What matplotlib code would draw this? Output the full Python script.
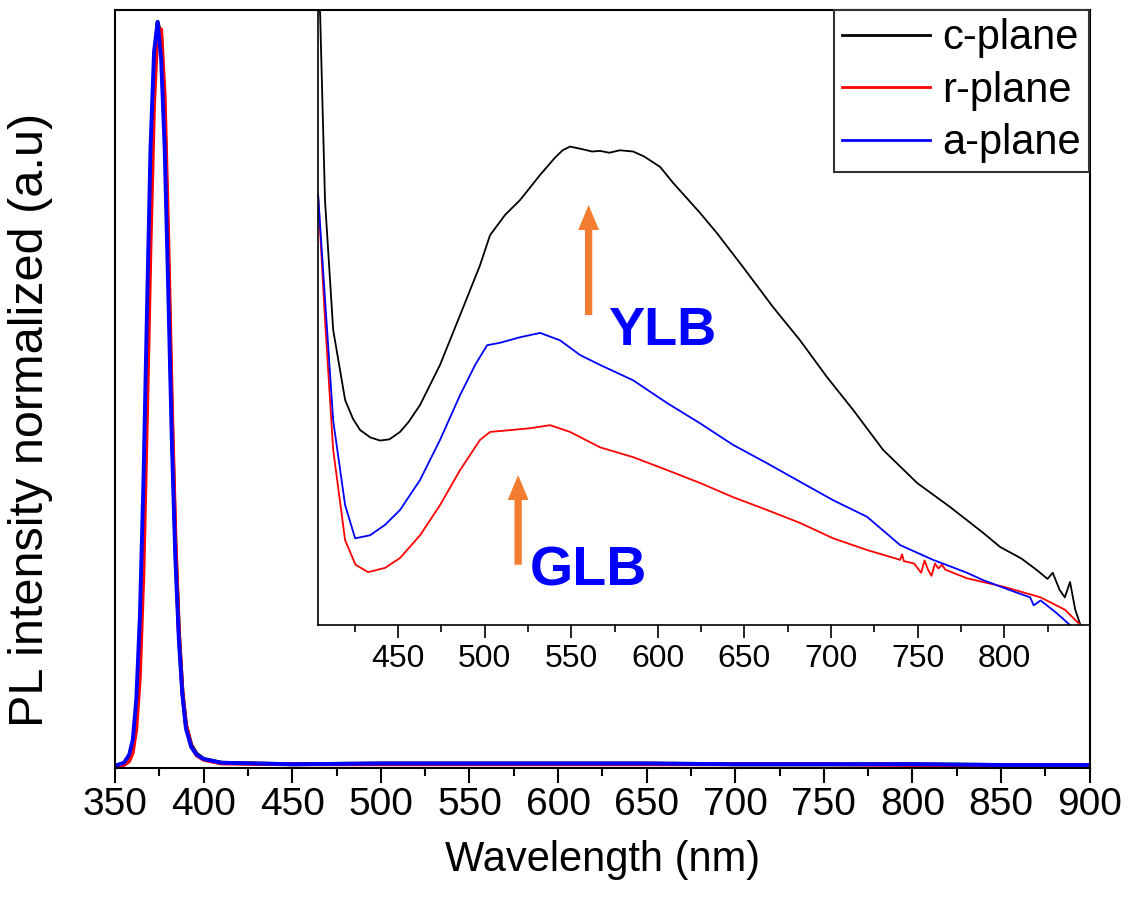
import matplotlib
matplotlib.use("Agg")
import matplotlib.pyplot as plt
from matplotlib.ticker import MultipleLocator

plt.rcParams['font.family'] = ['Liberation Sans', 'DejaVu Sans']

# ---------------- main spectrum (normalized) ----------------
wl_main = [350, 355, 358, 360, 362, 364, 366, 368, 370, 372, 374, 376, 378, 380,
           382, 384, 386, 388, 390, 393, 396, 400, 410, 450, 500, 550, 600, 650,
           700, 750, 800, 850, 900]
c_main = [0, 0.002, 0.01, 0.025, 0.07, 0.16, 0.32, 0.54, 0.77, 0.93, 1.0, 0.98,
          0.87, 0.68, 0.47, 0.30, 0.18, 0.10, 0.055, 0.028, 0.016, 0.009, 0.004,
          0.002, 0.003, 0.003, 0.003, 0.003, 0.002, 0.002, 0.002, 0.001, 0.001]
r_main = [0, 0.001, 0.006, 0.018, 0.05, 0.12, 0.26, 0.47, 0.70, 0.89, 0.99, 0.99,
          0.90, 0.71, 0.49, 0.31, 0.18, 0.10, 0.055, 0.026, 0.014, 0.008, 0.003,
          0.002, 0.002, 0.002, 0.002, 0.002, 0.002, 0.002, 0.001, 0.001, 0.001]
a_main = [0, 0.004, 0.015, 0.035, 0.09, 0.20, 0.38, 0.61, 0.83, 0.96, 1.0, 0.95,
          0.83, 0.64, 0.44, 0.28, 0.17, 0.095, 0.05, 0.025, 0.015, 0.009, 0.004,
          0.002, 0.003, 0.003, 0.003, 0.003, 0.002, 0.002, 0.002, 0.001, 0.001]

# ---------------- inset (defect band, zoomed) ----------------
wl_c = [404, 405, 407.8, 412.5, 419.4, 424, 428.1, 434, 439.6, 445, 451.1, 456,
        462.7, 474.2, 485.8, 497.3, 503.1, 511.8, 520.4, 532.0, 540.6, 545,
        549.3, 556, 562, 566.6, 572, 578, 585.7, 592, 601.3, 608.8, 624.4, 634.2,
        649.2, 666.5, 682.1, 697.7, 712.7, 730.0, 749.7, 768.7, 787.8, 797.6,
        810, 819, 825, 828, 832, 835, 838, 841, 844]
c_ins = [1.05, 0.99, 0.69, 0.48, 0.366, 0.335, 0.317, 0.305, 0.30, 0.302, 0.314,
         0.33, 0.358, 0.423, 0.504, 0.585, 0.634, 0.667, 0.691, 0.732, 0.760,
         0.772, 0.778, 0.774, 0.770, 0.771, 0.768, 0.772, 0.770, 0.762, 0.745,
         0.719, 0.670, 0.637, 0.582, 0.517, 0.463, 0.403, 0.350, 0.285, 0.231,
         0.192, 0.150, 0.127, 0.108, 0.089, 0.075, 0.085, 0.057, 0.045, 0.07,
         0.025, 0.0]

wl_r = [403.8, 407.8, 412.5, 419.4, 425.4, 432.7, 442.5, 451.1, 462.7, 474.2,
        485.8, 497.3, 503.1, 514.8, 526.2, 537.8, 549.3, 566.6, 585.7, 605.3,
        624.4, 643.4, 663.1, 682.1, 701.2, 720.8, 739.9, 741, 742, 748, 752, 754,
        756, 758, 760, 762, 764, 766, 778.5, 800, 821, 835, 844]
r_ins = [0.70, 0.496, 0.285, 0.138, 0.098, 0.086, 0.093, 0.109, 0.146, 0.195,
         0.252, 0.301, 0.314, 0.317, 0.320, 0.325, 0.314, 0.289, 0.273, 0.252,
         0.231, 0.208, 0.187, 0.166, 0.141, 0.122, 0.106, 0.115, 0.104, 0.100,
         0.085, 0.105, 0.09, 0.08, 0.1, 0.092, 0.098, 0.09, 0.076, 0.062, 0.045,
         0.025, 0.0]

wl_a = [403.8, 407.8, 412.5, 419.4, 425.2, 433.8, 442.5, 451.1, 462.7, 474.2,
        485.8, 494.5, 501.4, 508.9, 520.4, 532.0, 543.5, 555.1, 566.6, 585.7,
        605.3, 624.4, 643.4, 663.1, 682.1, 701.2, 720.8, 739.9, 758.9, 778.5,
        787.8, 805, 815, 817, 821, 830, 838]
a_ins = [0.70, 0.53, 0.333, 0.195, 0.141, 0.146, 0.163, 0.187, 0.236, 0.301,
         0.374, 0.423, 0.455, 0.459, 0.468, 0.475, 0.463, 0.439, 0.423, 0.398,
         0.361, 0.328, 0.293, 0.263, 0.233, 0.203, 0.176, 0.130, 0.106, 0.085,
         0.073, 0.055, 0.045, 0.032, 0.04, 0.02, 0.0]

labels = ['c-plane', 'r-plane', 'a-plane']
colors = ['black', '#FF0000', '#0000FF']
xticks_main = [350, 400, 450, 500, 550, 600, 650, 700, 750, 800, 850, 900]
xticks_inset = [450, 500, 550, 600, 650, 700, 750, 800]

fig = plt.figure(figsize=(11.28, 9.15), dpi=100)
ax = fig.add_axes([0.102, 0.1607, 0.864, 0.8283])

for y, c in zip([c_main, r_main, a_main], colors):
    ax.plot(wl_main, y, color=c, lw=2.8)
ax.set_xlim(350, 900)
ax.set_ylim(-0.003, 1.016)
ax.set_xticks(xticks_main)
ax.xaxis.set_minor_locator(MultipleLocator(25))
ax.set_yticks([])
ax.tick_params(axis='x', which='major', direction='out', length=11, width=1.5,
               labelsize=28, pad=3)
ax.tick_params(axis='x', which='minor', direction='out', length=6, width=1.5)
for s in ax.spines.values():
    s.set_linewidth(1.5)
ax.set_xlabel('Wavelength (nm)', fontsize=30, labelpad=12)
ax.set_ylabel('PL intensity normalized (a.u)', fontsize=35, va='center')
ax.yaxis.set_label_coords(-0.087, 0.459)

# inset
ins = fig.add_axes([0.282, 0.3169, 0.6835, 0.6721])
ins.patch.set_alpha(0)
series_wl = [wl_c, wl_r, wl_a]
series_y = [c_ins, r_ins, a_ins]
for xw, y, c, l in zip(series_wl, series_y, colors, labels):
    ins.plot(xw, y, color=c, lw=1.3, label=l)
ins.set_xlim(403.8, 849)
ins.set_ylim(0, 1.0)
ins.set_xticks(xticks_inset)
ins.xaxis.set_minor_locator(MultipleLocator(25))
ins.set_yticks([])
ins.tick_params(axis='x', which='major', direction='out', length=9, width=1.2,
                labelsize=23, pad=5)
ins.tick_params(axis='x', which='minor', direction='out', length=5, width=1.2)
for s in ins.spines.values():
    s.set_linewidth(1.2)
ins.spines['top'].set_visible(False)
ins.spines['right'].set_visible(False)

leg = ins.legend(loc='upper right', borderaxespad=0, fontsize=30,
                 handlelength=2.1, handletextpad=0.3, borderpad=0.2,
                 labelspacing=0.3, fancybox=False, framealpha=1,
                 edgecolor='#333333')
leg.get_frame().set_linewidth(1.5)
for h in leg.get_lines():
    h.set_linewidth(2.0)

orange = '#F47C30'
arrow_style = 'simple,head_width=1.0,head_length=1.2,tail_width=0.35'
ins.annotate('', xy=(560, 0.683), xytext=(560, 0.504),
             arrowprops=dict(arrowstyle=arrow_style, mutation_scale=15,
                             fc=orange, ec='none', shrinkA=0, shrinkB=0))
ins.annotate('', xy=(519.3, 0.244), xytext=(519.3, 0.098),
             arrowprops=dict(arrowstyle=arrow_style, mutation_scale=15,
                             fc=orange, ec='none', shrinkA=0, shrinkB=0))
ins.text(571.2, 0.455, 'YLB', color='#0000FF', fontsize=39, fontweight='bold',
         ha='left', va='baseline')
ins.text(526.2, 0.065, 'GLB', color='#0000FF', fontsize=40, fontweight='bold',
         ha='left', va='baseline')

fig.savefig('out.png', dpi=100)
